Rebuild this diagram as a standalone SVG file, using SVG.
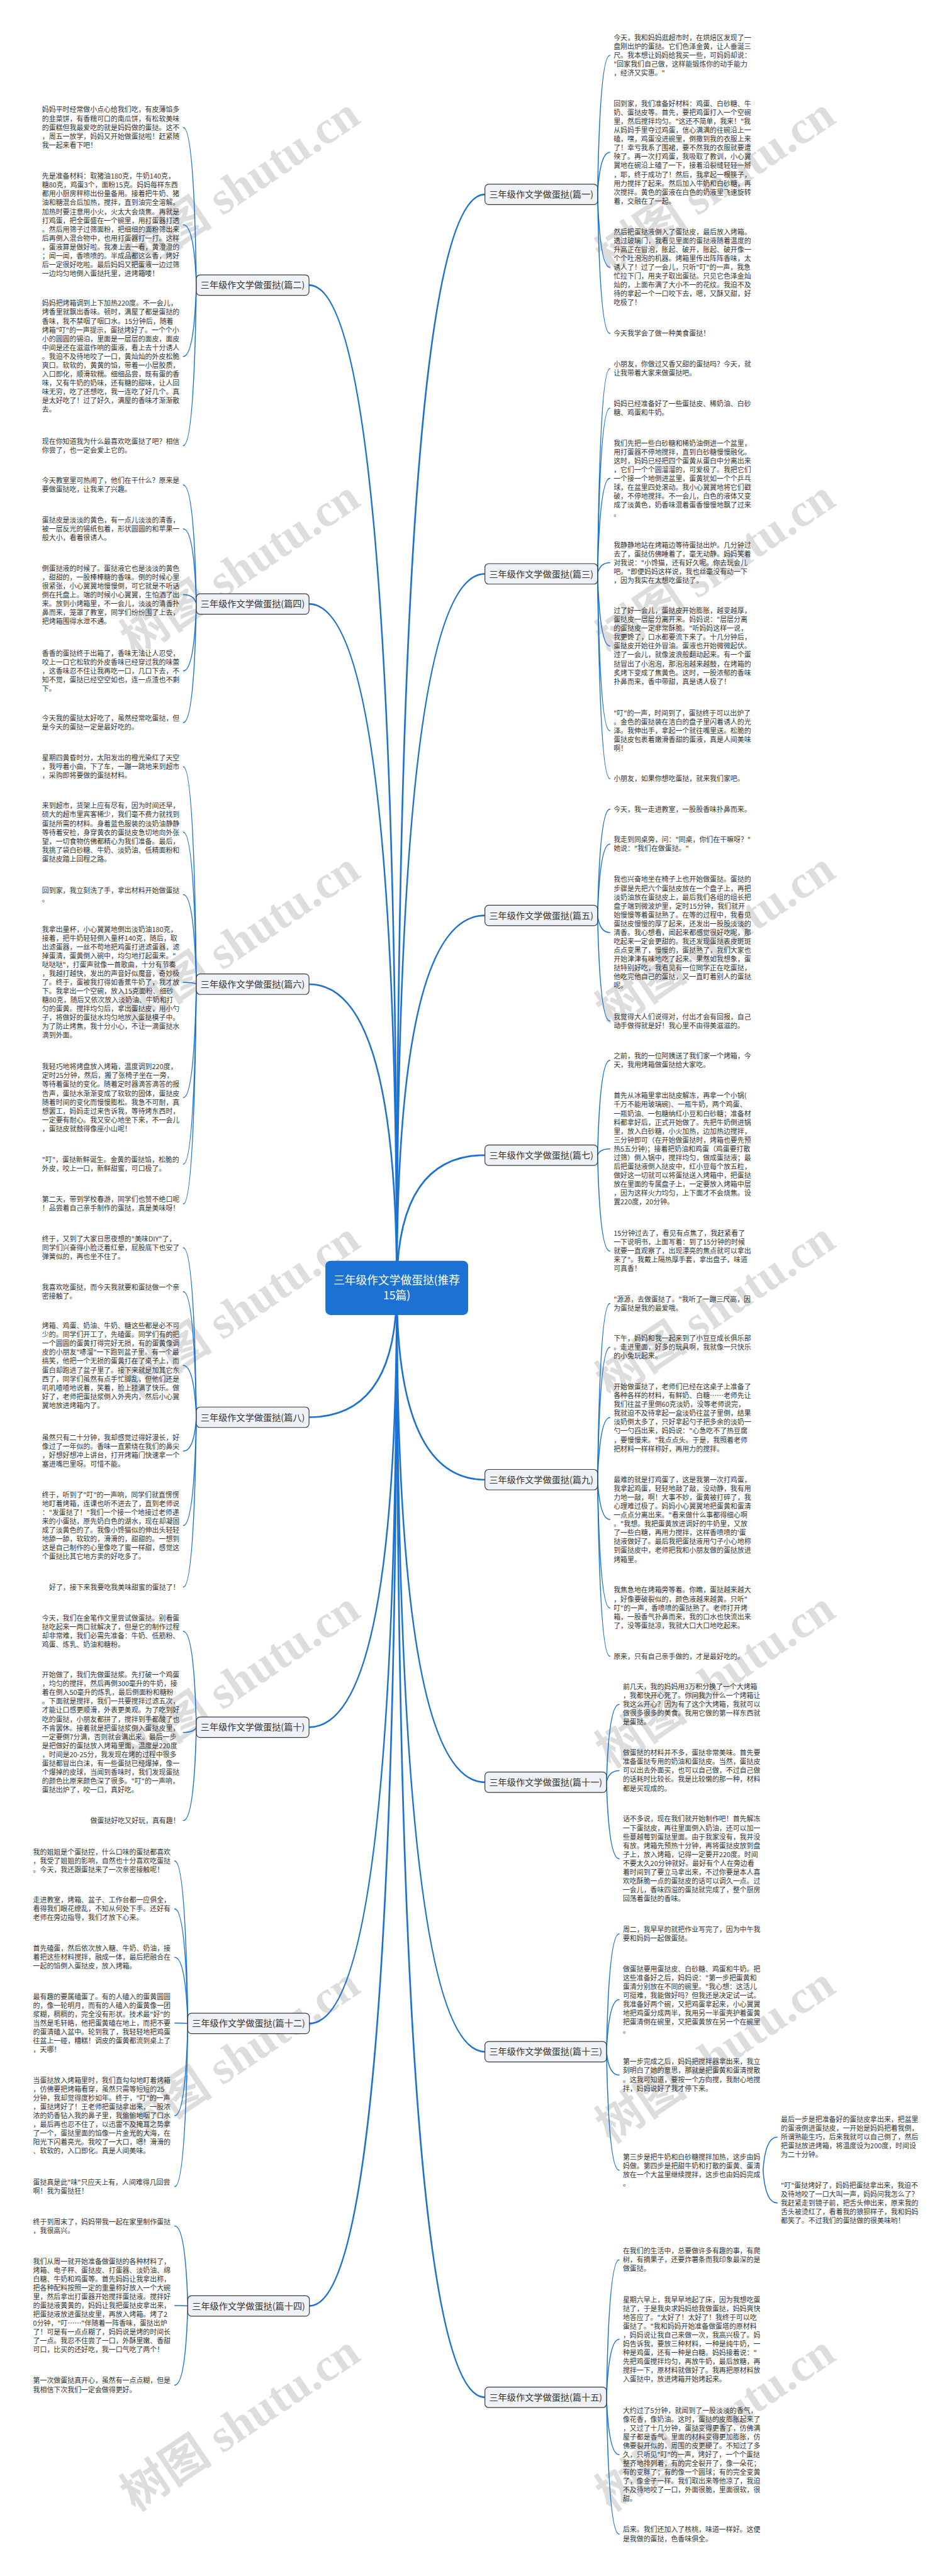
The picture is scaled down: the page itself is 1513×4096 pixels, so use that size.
<svg xmlns="http://www.w3.org/2000/svg" width="1513" height="4096" viewBox="0 0 1513 4096">
<style>
.p{font-family:"Noto Sans CJK SC","Noto Sans",sans-serif;font-size:18.5px;fill:#333}
.nt{font-family:"Noto Sans CJK SC","Noto Sans",sans-serif;font-size:24px;fill:#333;text-anchor:middle}
.ct{font-family:"Noto Sans CJK SC","Noto Sans",sans-serif;font-size:30px;fill:#fff;text-anchor:middle}
.node{fill:#eef1f6;stroke:#3a3a3a;stroke-width:2}
.m{fill:none;stroke:#1b72d2;stroke-width:4.5;stroke-linecap:round}
.s{fill:none;stroke:#1b72d2;stroke-width:2.6;stroke-linecap:round}
.wm{font-family:"Liberation Serif","Noto Sans CJK SC",serif;font-size:125px;font-weight:bold;fill:#000;opacity:0.13;text-anchor:middle}
</style>
<rect width="1513" height="4096" fill="#fff"/>
<g transform="scale(0.591)">
<g id="watermarks">
<text class="wm" x="647" y="540" transform="rotate(-34 647 500)">树图 shutu.cn</text>
<text class="wm" x="1925" y="540" transform="rotate(-34 1925 500)">树图 shutu.cn</text>
<text class="wm" x="647" y="1570" transform="rotate(-34 647 1530)">树图 shutu.cn</text>
<text class="wm" x="1925" y="1570" transform="rotate(-34 1925 1530)">树图 shutu.cn</text>
<text class="wm" x="647" y="2570" transform="rotate(-34 647 2530)">树图 shutu.cn</text>
<text class="wm" x="1925" y="2570" transform="rotate(-34 1925 2530)">树图 shutu.cn</text>
<text class="wm" x="647" y="3565" transform="rotate(-34 647 3525)">树图 shutu.cn</text>
<text class="wm" x="1925" y="3565" transform="rotate(-34 1925 3525)">树图 shutu.cn</text>
<text class="wm" x="647" y="4560" transform="rotate(-34 647 4520)">树图 shutu.cn</text>
<text class="wm" x="1925" y="4560" transform="rotate(-34 1925 4520)">树图 shutu.cn</text>
<text class="wm" x="647" y="5570" transform="rotate(-34 647 5530)">树图 shutu.cn</text>
<text class="wm" x="1925" y="5570" transform="rotate(-34 1925 5530)">树图 shutu.cn</text>
<text class="wm" x="647" y="6560" transform="rotate(-34 647 6520)">树图 shutu.cn</text>
<text class="wm" x="1925" y="6560" transform="rotate(-34 1925 6520)">树图 shutu.cn</text>
</g>
<g id="connectors">
<path class="m" d="M1067 3465 Q1067 523 1304 523"/>
<path class="m" d="M1067 3465 Q1067 1544 1304 1544"/>
<path class="m" d="M1067 3465 Q1067 2463 1304 2463"/>
<path class="m" d="M1067 3465 Q1067 3108 1304 3108"/>
<path class="m" d="M1067 3465 Q1067 3981 1304 3981"/>
<path class="m" d="M1067 3465 Q1067 4795 1304 4795"/>
<path class="m" d="M1067 3465 Q1067 5520 1304 5520"/>
<path class="m" d="M1067 3465 Q1067 6450 1304 6450"/>
<path class="m" d="M1067 3465 Q1067 767 831 767"/>
<path class="m" d="M1067 3465 Q1067 1625 831 1625"/>
<path class="m" d="M1067 3465 Q1067 2648 831 2648"/>
<path class="m" d="M1067 3465 Q1067 3813 831 3813"/>
<path class="m" d="M1067 3465 Q1067 4647 831 4647"/>
<path class="m" d="M1067 3465 Q1067 5444 832 5444"/>
<path class="m" d="M1067 3465 Q1067 6204 832 6204"/>
<path class="s" d="M1607 523 Q1613 149 1640 149"/>
<path class="s" d="M1607 523 Q1613 410 1640 410"/>
<path class="s" d="M1607 523 Q1613 719 1640 719"/>
<path class="s" d="M1607 523 Q1613 897 1640 897"/>
<path class="s" d="M1607 1544 Q1613 992 1640 992"/>
<path class="s" d="M1607 1544 Q1613 1098 1640 1098"/>
<path class="s" d="M1607 1544 Q1613 1287 1640 1287"/>
<path class="s" d="M1607 1544 Q1613 1514 1640 1514"/>
<path class="s" d="M1607 1544 Q1613 1738 1640 1738"/>
<path class="s" d="M1607 1544 Q1613 1966 1640 1966"/>
<path class="s" d="M1607 1544 Q1613 2095 1640 2095"/>
<path class="s" d="M1607 2463 Q1613 2177 1640 2177"/>
<path class="s" d="M1607 2463 Q1613 2271 1640 2271"/>
<path class="s" d="M1607 2463 Q1613 2509 1640 2509"/>
<path class="s" d="M1607 2463 Q1613 2747 1640 2747"/>
<path class="s" d="M1607 3108 Q1613 2853 1640 2853"/>
<path class="s" d="M1607 3108 Q1613 3091 1640 3091"/>
<path class="s" d="M1607 3108 Q1613 3366 1640 3366"/>
<path class="s" d="M1607 3981 Q1613 3507 1640 3507"/>
<path class="s" d="M1607 3981 Q1613 3625 1640 3625"/>
<path class="s" d="M1607 3981 Q1613 3814 1640 3814"/>
<path class="s" d="M1607 3981 Q1613 4088 1640 4088"/>
<path class="s" d="M1607 3981 Q1613 4326 1640 4326"/>
<path class="s" d="M1607 3981 Q1613 4456 1640 4456"/>
<path class="s" d="M1631 4795 Q1637 4586 1665 4586"/>
<path class="s" d="M1631 4795 Q1637 4764 1665 4764"/>
<path class="s" d="M1631 4795 Q1637 5001 1665 5001"/>
<path class="s" d="M1631 5520 Q1637 5203 1665 5203"/>
<path class="s" d="M1631 5520 Q1637 5380 1665 5380"/>
<path class="s" d="M1631 5520 Q1637 5583 1665 5583"/>
<path class="s" d="M1631 5520 Q1637 5839 1665 5839"/>
<path class="s" d="M2052 5839 Q2058 5750 2090 5750"/>
<path class="s" d="M2052 5839 Q2058 5927 2090 5927"/>
<path class="s" d="M1631 6450 Q1637 6080 1665 6080"/>
<path class="s" d="M1631 6450 Q1637 6294 1665 6294"/>
<path class="s" d="M1631 6450 Q1637 6604 1665 6604"/>
<path class="s" d="M1631 6450 Q1637 6818 1665 6818"/>
<path class="s" d="M528 767 Q522 343 493 343"/>
<path class="s" d="M528 767 Q522 605 493 605"/>
<path class="s" d="M528 767 Q522 959 493 959"/>
<path class="s" d="M528 767 Q522 1199 493 1199"/>
<path class="s" d="M528 1625 Q522 1305 493 1305"/>
<path class="s" d="M528 1625 Q522 1423 493 1423"/>
<path class="s" d="M528 1625 Q522 1600 493 1600"/>
<path class="s" d="M528 1625 Q522 1805 493 1805"/>
<path class="s" d="M528 1625 Q522 1944 493 1944"/>
<path class="s" d="M528 2648 Q522 2063 493 2063"/>
<path class="s" d="M528 2648 Q522 2239 493 2239"/>
<path class="s" d="M528 2648 Q522 2407 493 2407"/>
<path class="s" d="M528 2648 Q522 2643 493 2643"/>
<path class="s" d="M528 2648 Q522 2953 493 2953"/>
<path class="s" d="M528 2648 Q522 3132 493 3132"/>
<path class="s" d="M528 2648 Q522 3239 493 3239"/>
<path class="s" d="M528 3813 Q522 3357 493 3357"/>
<path class="s" d="M528 3813 Q522 3475 493 3475"/>
<path class="s" d="M528 3813 Q522 3674 493 3674"/>
<path class="s" d="M528 3813 Q522 3904 493 3904"/>
<path class="s" d="M528 3813 Q522 4104 493 4104"/>
<path class="s" d="M528 3813 Q522 4270 493 4270"/>
<path class="s" d="M528 4647 Q522 4389 493 4389"/>
<path class="s" d="M528 4647 Q522 4661 493 4661"/>
<path class="s" d="M528 4647 Q522 4898 493 4898"/>
<path class="s" d="M505 5444 Q499 5007 470 5007"/>
<path class="s" d="M505 5444 Q499 5136 470 5136"/>
<path class="s" d="M505 5444 Q499 5266 470 5266"/>
<path class="s" d="M505 5444 Q499 5443 470 5443"/>
<path class="s" d="M505 5444 Q499 5692 470 5692"/>
<path class="s" d="M505 5444 Q499 5883 470 5883"/>
<path class="s" d="M505 6204 Q499 5989 470 5989"/>
<path class="s" d="M505 6204 Q499 6203 470 6203"/>
<path class="s" d="M505 6204 Q499 6417 470 6417"/>
</g>
<g id="center">
<rect x="875" y="3392" width="384" height="146" rx="14" fill="#1b72d2"/>
<text class="ct" x="1067" y="3456">三年级作文学做蛋挞(推荐</text>
<text class="ct" x="1067" y="3496">15篇)</text>
</g>
<g id="n1"><rect class="node" x="1304" y="495.5" width="303" height="55" rx="10"/><text class="nt" x="1455.5" y="531.5">三年级作文学做蛋挞(篇一)</text></g>
<g id="n3"><rect class="node" x="1304" y="1516.5" width="303" height="55" rx="10"/><text class="nt" x="1455.5" y="1552.5">三年级作文学做蛋挞(篇三)</text></g>
<g id="n5"><rect class="node" x="1304" y="2435.5" width="303" height="55" rx="10"/><text class="nt" x="1455.5" y="2471.5">三年级作文学做蛋挞(篇五)</text></g>
<g id="n7"><rect class="node" x="1304" y="3080.5" width="303" height="55" rx="10"/><text class="nt" x="1455.5" y="3116.5">三年级作文学做蛋挞(篇七)</text></g>
<g id="n9"><rect class="node" x="1304" y="3953.5" width="303" height="55" rx="10"/><text class="nt" x="1455.5" y="3989.5">三年级作文学做蛋挞(篇九)</text></g>
<g id="n11"><rect class="node" x="1304" y="4767.5" width="327" height="55" rx="10"/><text class="nt" x="1467.5" y="4803.5">三年级作文学做蛋挞(篇十一)</text></g>
<g id="n13"><rect class="node" x="1304" y="5492.5" width="327" height="55" rx="10"/><text class="nt" x="1467.5" y="5528.5">三年级作文学做蛋挞(篇十三)</text></g>
<g id="n15"><rect class="node" x="1304" y="6422.5" width="327" height="55" rx="10"/><text class="nt" x="1467.5" y="6458.5">三年级作文学做蛋挞(篇十五)</text></g>
<g id="n2"><rect class="node" x="528" y="739.5" width="303" height="55" rx="10"/><text class="nt" x="679.5" y="775.5">三年级作文学做蛋挞(篇二)</text></g>
<g id="n4"><rect class="node" x="528" y="1597.5" width="303" height="55" rx="10"/><text class="nt" x="679.5" y="1633.5">三年级作文学做蛋挞(篇四)</text></g>
<g id="n6"><rect class="node" x="528" y="2620.5" width="303" height="55" rx="10"/><text class="nt" x="679.5" y="2656.5">三年级作文学做蛋挞(篇六)</text></g>
<g id="n8"><rect class="node" x="528" y="3785.5" width="303" height="55" rx="10"/><text class="nt" x="679.5" y="3821.5">三年级作文学做蛋挞(篇八)</text></g>
<g id="n10"><rect class="node" x="528" y="4619.5" width="303" height="55" rx="10"/><text class="nt" x="679.5" y="4655.5">三年级作文学做蛋挞(篇十)</text></g>
<g id="n12"><rect class="node" x="505" y="5416.5" width="327" height="55" rx="10"/><text class="nt" x="668.5" y="5452.5">三年级作文学做蛋挞(篇十二)</text></g>
<g id="n14"><rect class="node" x="505" y="6176.5" width="327" height="55" rx="10"/><text class="nt" x="668.5" y="6212.5">三年级作文学做蛋挞(篇十四)</text></g>
<g id="right-texts">
<text class="p" y="108"><tspan x="1650">今天，我和妈妈逛超市时，在烘焙区发现了一</tspan><tspan x="1650" dy="23.8">盘刚出炉的蛋挞。它们色泽金黄，让人垂涎三</tspan><tspan x="1650" dy="23.8">尺。我本想让妈妈给我买一些，可妈妈却说：</tspan><tspan x="1650" dy="23.8">"回家我们自己做，这样能锻炼你的动手能力</tspan><tspan x="1650" dy="23.8">，经济又实惠。"</tspan></text>
<text class="p" y="286"><tspan x="1650">回到家，我们准备好材料：鸡蛋、白砂糖、牛</tspan><tspan x="1650" dy="23.8">奶、蛋挞皮等。首先，要把鸡蛋打入一个空碗</tspan><tspan x="1650" dy="23.8">里，然后搅拌均匀。"这还不简单，我来！"我</tspan><tspan x="1650" dy="23.8">从妈妈手里夺过鸡蛋，信心满满的往碗沿上一</tspan><tspan x="1650" dy="23.8">磕，嘿，鸡蛋没进碗里，倒撒到我的衣服上来</tspan><tspan x="1650" dy="23.8">了！幸亏我系了围裙，要不然我的衣服就要遭</tspan><tspan x="1650" dy="23.8">殃了。再一次打鸡蛋，我吸取了教训，小心翼</tspan><tspan x="1650" dy="23.8">翼地在碗沿上磕了一下，接着沿裂缝轻轻一掰</tspan><tspan x="1650" dy="23.8">，耶，终于成功了！然后，我拿起一根筷子，</tspan><tspan x="1650" dy="23.8">用力搅拌了起来。然后加入牛奶和白砂糖，再</tspan><tspan x="1650" dy="23.8">次搅拌。黄色的蛋液在白色的奶液里飞速旋转</tspan><tspan x="1650" dy="23.8">着，交融在了一起。</tspan></text>
<text class="p" y="631"><tspan x="1650">然后把蛋挞液倒入了蛋挞皮，最后放入烤箱。</tspan><tspan x="1650" dy="23.8">透过玻璃门，我看见里面的蛋挞液随着温度的</tspan><tspan x="1650" dy="23.8">升高正在冒泡，胀起、破开，胀起、破开像一</tspan><tspan x="1650" dy="23.8">个个吐泡泡的机器。烤箱里传出阵阵香味，太</tspan><tspan x="1650" dy="23.8">诱人了！过了一会儿，只听"叮"的一声，我急</tspan><tspan x="1650" dy="23.8">忙拉下门，用夹子取出蛋挞。只见它色泽金灿</tspan><tspan x="1650" dy="23.8">灿的，上面布满了大小不一的花纹。我迫不及</tspan><tspan x="1650" dy="23.8">待的拿起一个一口咬下去，嗯，又酥又甜，好</tspan><tspan x="1650" dy="23.8">吃极了！</tspan></text>
<text class="p" x="1650" y="904">今天我学会了做一种美食蛋挞！</text>
<text class="p" y="987"><tspan x="1650">小朋友，你做过又香又甜的蛋挞吗？今天，就</tspan><tspan x="1650" dy="23.8">让我带着大家来做蛋挞吧。</tspan></text>
<text class="p" y="1093"><tspan x="1650">妈妈已经准备好了一些蛋挞皮、稀奶油、白砂</tspan><tspan x="1650" dy="23.8">糖、鸡蛋和牛奶。</tspan></text>
<text class="p" y="1199"><tspan x="1650">我们先把一些白砂糖和稀奶油倒进一个盆里，</tspan><tspan x="1650" dy="23.8">用打蛋器不停地搅拌，直到白砂糖慢慢融化。</tspan><tspan x="1650" dy="23.8">这时，妈妈已经把四个蛋黄从蛋白中分离出来</tspan><tspan x="1650" dy="23.8">，它们一个个圆溜溜的，可爱极了。我把它们</tspan><tspan x="1650" dy="23.8">一个接一个地倒进盆里，蛋黄犹如一个个乒乓</tspan><tspan x="1650" dy="23.8">球，在盆里四处滚动。我小心翼翼地将它们戳</tspan><tspan x="1650" dy="23.8">破，不停地搅拌。不一会儿，白色的液体又变</tspan><tspan x="1650" dy="23.8">成了淡黄色，奶香味混着蛋香慢慢地飘了过来</tspan><tspan x="1650" dy="23.8">。</tspan></text>
<text class="p" y="1473"><tspan x="1650">我静静地站在烤箱边等待蛋挞出炉。几分钟过</tspan><tspan x="1650" dy="23.8">去了，蛋挞仿佛睡着了，毫无动静。妈妈笑着</tspan><tspan x="1650" dy="23.8">对我说："小馋猫，还有好久呢。你去玩会儿</tspan><tspan x="1650" dy="23.8">吧。"即便妈妈这样说，我也丝毫没有动一下</tspan><tspan x="1650" dy="23.8">，因为我实在太想吃蛋挞了。</tspan></text>
<text class="p" y="1650"><tspan x="1650">过了好一会儿，蛋挞皮开始膨胀，越变越厚，</tspan><tspan x="1650" dy="23.8">蛋挞皮一层层分离开来。妈妈说："层层分离</tspan><tspan x="1650" dy="23.8">的蛋挞皮一定非常酥脆。"听妈妈这样一说，</tspan><tspan x="1650" dy="23.8">我更馋了，口水都要流下来了。十几分钟后，</tspan><tspan x="1650" dy="23.8">蛋挞皮开始往外冒油。蛋液也开始微微起伏。</tspan><tspan x="1650" dy="23.8">过了一会儿，就像波浪般翻动起来。有一个蛋</tspan><tspan x="1650" dy="23.8">挞冒出了小泡泡，那泡泡越来越鼓，在烤箱的</tspan><tspan x="1650" dy="23.8">炙烤下变成了焦黄色。这时，一股浓郁的香味</tspan><tspan x="1650" dy="23.8">扑鼻而来，香中带甜，真是诱人极了！</tspan></text>
<text class="p" y="1925"><tspan x="1650">"叮"的一声，时间到了，蛋挞终于可以出炉了</tspan><tspan x="1650" dy="23.8">。金色的蛋挞装在洁白的盘子里闪着诱人的光</tspan><tspan x="1650" dy="23.8">泽。我伸出手，拿起一个就往嘴里送。松脆的</tspan><tspan x="1650" dy="23.8">蛋挞皮包裹着嫩滑香甜的蛋液，真是人间美味</tspan><tspan x="1650" dy="23.8">啊！</tspan></text>
<text class="p" x="1650" y="2102">小朋友，如果你想吃蛋挞，就来我们家吧。</text>
<text class="p" x="1650" y="2184">今天，我一走进教室，一股股香味扑鼻而来。</text>
<text class="p" y="2266"><tspan x="1650">我走到同桌旁，问："同桌，你们在干嘛呀？"</tspan><tspan x="1650" dy="23.8">她说："我们在做蛋挞。"</tspan></text>
<text class="p" y="2373"><tspan x="1650">我也兴奋地坐在椅子上也开始做蛋挞。蛋挞的</tspan><tspan x="1650" dy="23.8">步骤是先把六个蛋挞皮放在一个盘子上，再把</tspan><tspan x="1650" dy="23.8">淡奶油放在蛋挞皮上，最后我们各组的组长把</tspan><tspan x="1650" dy="23.8">盘子端到微波炉里，定时15分钟，我们就开</tspan><tspan x="1650" dy="23.8">始慢慢等着蛋挞熟了。在等的过程中，我看见</tspan><tspan x="1650" dy="23.8">蛋挞皮慢慢的厚了起来，还发出一股股淡淡的</tspan><tspan x="1650" dy="23.8">清香。我心想看，闻起来都感觉很好吃呢，那</tspan><tspan x="1650" dy="23.8">吃起来一定会更甜的。我还发现蛋挞表皮斑斑</tspan><tspan x="1650" dy="23.8">点点变黑了，慢慢的，蛋挞熟了，我们大家也</tspan><tspan x="1650" dy="23.8">开始津津有味地吃了起来。果然如我想象，蛋</tspan><tspan x="1650" dy="23.8">挞特别好吃，我看见有一位同学正在吃蛋挞，</tspan><tspan x="1650" dy="23.8">他吃完他自己的蛋挞，又一直盯着别人的蛋挞</tspan><tspan x="1650" dy="23.8">呢。</tspan></text>
<text class="p" y="2742"><tspan x="1650">我觉得大人们说得对，付出才会有回报，自己</tspan><tspan x="1650" dy="23.8">动手做得就是好！我心里不由得美滋滋的。</tspan></text>
<text class="p" y="2848"><tspan x="1650">之前，我的一位阿姨送了我们家一个烤箱，今</tspan><tspan x="1650" dy="23.8">天，我用烤箱做蛋挞给大家吃。</tspan></text>
<text class="p" y="2955"><tspan x="1650">首先从冰箱里拿出挞皮解冻，再拿一个小锅(</tspan><tspan x="1650" dy="23.8">千万不能用玻璃碗)、一瓶牛奶，两个鸡蛋、</tspan><tspan x="1650" dy="23.8">一瓶奶油、一包糖纳红小豆和白砂糖；准备材</tspan><tspan x="1650" dy="23.8">料都拿好后，正式开始做了。先把牛奶倒进锅</tspan><tspan x="1650" dy="23.8">里，放入白砂糖，小火加热，边加热边搅拌，</tspan><tspan x="1650" dy="23.8">三分钟即可（在开始做蛋挞时，烤箱也要先预</tspan><tspan x="1650" dy="23.8">热5五分钟)；接着把奶油和鸡蛋（鸡蛋要打散</tspan><tspan x="1650" dy="23.8">过筛）倒入锅中，搅拌均匀，做成蛋挞液；最</tspan><tspan x="1650" dy="23.8">后把蛋挞液倒入挞皮中，红小豆每个放五粒，</tspan><tspan x="1650" dy="23.8">做好这一切就可以将蛋挞送入烤箱中，把蛋挞</tspan><tspan x="1650" dy="23.8">放在里面的专属盘子上，一定要放入烤箱中层</tspan><tspan x="1650" dy="23.8">，因为这样火力均匀，上下面才不会烧焦。设</tspan><tspan x="1650" dy="23.8">置220度，20分钟。</tspan></text>
<text class="p" y="3325"><tspan x="1650">15分钟过去了，看见有点焦了，我赶紧看了</tspan><tspan x="1650" dy="23.8">一下说明书，上面写着：到了15分钟的时候</tspan><tspan x="1650" dy="23.8">就要一直观察了，出现漂亮的焦点就可以拿出</tspan><tspan x="1650" dy="23.8">来了"。我戴上隔热厚手套，拿出盘子，味道</tspan><tspan x="1650" dy="23.8">可真香！</tspan></text>
<text class="p" y="3502"><tspan x="1650">"源源，去做蛋挞了。"我听了一蹦三尺高，因</tspan><tspan x="1650" dy="23.8">为蛋挞是我的最爱哦。</tspan></text>
<text class="p" y="3608"><tspan x="1650">下午，妈妈和我一起来到了小豆豆成长俱乐部</tspan><tspan x="1650" dy="23.8">。走进里面，好多的玩具啊，我就像一只快乐</tspan><tspan x="1650" dy="23.8">的小兔玩起来。</tspan></text>
<text class="p" y="3738"><tspan x="1650">开始做蛋挞了，老师们已经在这桌子上准备了</tspan><tspan x="1650" dy="23.8">各种各样的材料，有鲜奶、白糖……老师先让</tspan><tspan x="1650" dy="23.8">我们往盆子里倒60克淡奶，没等老师说完，</tspan><tspan x="1650" dy="23.8">我就迫不及待拿起一盒淡奶往盆子里倒，结果</tspan><tspan x="1650" dy="23.8">淡奶倒太多了，只好拿起勺子把多余的淡奶一</tspan><tspan x="1650" dy="23.8">勺一勺舀出来，妈妈说："心急吃不了热豆腐</tspan><tspan x="1650" dy="23.8">，要慢慢来。"我点点头。于是，我照着老师</tspan><tspan x="1650" dy="23.8">把材料一样样称好，再用力的搅拌。</tspan></text>
<text class="p" y="3988"><tspan x="1650">最难的就是打鸡蛋了，这是我第一次打鸡蛋，</tspan><tspan x="1650" dy="23.8">我拿起鸡蛋，轻轻地敲了敲，没动静，我有用</tspan><tspan x="1650" dy="23.8">力地一敲，啊！大事不妙，蛋黄被打碎了，我</tspan><tspan x="1650" dy="23.8">心理难过极了。妈妈小心翼翼地把蛋黄和蛋清</tspan><tspan x="1650" dy="23.8">一点点分离出来。"看来做什么事都得细心啊</tspan><tspan x="1650" dy="23.8">。"我想。我把蛋黄放进调好的牛奶里，又放</tspan><tspan x="1650" dy="23.8">了一些白糖，再用力搅拌，这样香喷喷的'蛋</tspan><tspan x="1650" dy="23.8">挞液做好了。最后我把蛋挞液用勺子小心地称</tspan><tspan x="1650" dy="23.8">到蛋挞皮中，老师把我和小朋友做的蛋挞放进</tspan><tspan x="1650" dy="23.8">烤箱里。</tspan></text>
<text class="p" y="4285"><tspan x="1650">我焦急地在烤箱旁等着。你瞧，蛋挞越来越大</tspan><tspan x="1650" dy="23.8">，好像要破裂似的，颜色液越来越黄。只听"</tspan><tspan x="1650" dy="23.8">叮"的一声，香喷喷的蛋挞熟了。老师打开烤</tspan><tspan x="1650" dy="23.8">箱，一股香气扑鼻而来，我的口水也快流出来</tspan><tspan x="1650" dy="23.8">了，没等蛋挞凉，我就大口大口地吃起来。</tspan></text>
<text class="p" x="1650" y="4463">原来，只有自己亲手做的，才是最好吃的。</text>
<text class="p" y="4545"><tspan x="1675">前几天，我的妈妈用3万积分换了一个大烤箱</tspan><tspan x="1675" dy="23.8">，我都快开心死了。你问我为什么一个烤箱让</tspan><tspan x="1675" dy="23.8">我这么开心？因为有了这个大烤箱，我就可以</tspan><tspan x="1675" dy="23.8">做很多很多的美食。我用它做的第一样东西就</tspan><tspan x="1675" dy="23.8">是蛋挞。</tspan></text>
<text class="p" y="4723"><tspan x="1675">做蛋挞的材料并不多，蛋挞非常美味。首先要</tspan><tspan x="1675" dy="23.8">准备蛋挞专用的奶油和蛋挞皮。当然，蛋挞皮</tspan><tspan x="1675" dy="23.8">可以出去外面买，也可以自己做，不过自己做</tspan><tspan x="1675" dy="23.8">的话耗时比较长。我是比较懒的那一种，材料</tspan><tspan x="1675" dy="23.8">都是买现成的。</tspan></text>
<text class="p" y="4901"><tspan x="1675">话不多说，现在我们就开始制作吧！首先解冻</tspan><tspan x="1675" dy="23.8">一下蛋挞皮，再往里面倒入奶油，还可以加一</tspan><tspan x="1675" dy="23.8">些蔓越莓到蛋挞里面。由于我家没有，我并没</tspan><tspan x="1675" dy="23.8">有放。烤箱先预热十分钟，再将蛋挞皮放到盘</tspan><tspan x="1675" dy="23.8">子上，放入烤箱，记得一定要开220度。时间</tspan><tspan x="1675" dy="23.8">不要太久20分钟就好。最好有个人在旁边看</tspan><tspan x="1675" dy="23.8">着时间到了要立马拿出来，不过你要是本人喜</tspan><tspan x="1675" dy="23.8">欢吃酥脆一点的蛋挞皮的话可以调久一点。过</tspan><tspan x="1675" dy="23.8">一会儿，香味四溢的蛋挞就完成了，整个厨房</tspan><tspan x="1675" dy="23.8">回荡着蛋挞的香味。</tspan></text>
<text class="p" y="5198"><tspan x="1675">周二，我早早的就把作业写完了，因为中午我</tspan><tspan x="1675" dy="23.8">要和妈妈一起做蛋挞。</tspan></text>
<text class="p" y="5304"><tspan x="1675">做蛋挞要用蛋挞皮、白砂糖、鸡蛋和牛奶。把</tspan><tspan x="1675" dy="23.8">这些准备好之后，妈妈说："第一步把蛋黄和</tspan><tspan x="1675" dy="23.8">蛋清分别放在不同的碗里。"我心想：这活儿</tspan><tspan x="1675" dy="23.8">可挺难，我能做好吗？但我还是决定试一试。</tspan><tspan x="1675" dy="23.8">我准备好两个碗，又把鸡蛋拿起来，小心翼翼</tspan><tspan x="1675" dy="23.8">地把鸡蛋分成两半，我用另一半蛋壳护着蛋黄</tspan><tspan x="1675" dy="23.8">把蛋清倒在碗里，又把蛋黄放在另一个在碗里</tspan><tspan x="1675" dy="23.8">。</tspan></text>
<text class="p" y="5554"><tspan x="1675">第一步完成之后，妈妈把搅拌器拿出来，我立</tspan><tspan x="1675" dy="23.8">刻明白了她的意思，那就是把蛋黄和蛋清搅散</tspan><tspan x="1675" dy="23.8">。这我可知道，要按一个方向搅，我耐心地搅</tspan><tspan x="1675" dy="23.8">拌，妈妈说好了我才停下来。</tspan></text>
<text class="p" y="5810"><tspan x="1675">第三步是把牛奶和白砂糖搅拌加热，这步由妈</tspan><tspan x="1675" dy="23.8">妈做。第四步是把甜牛奶和打散的蛋黄、蛋清</tspan><tspan x="1675" dy="23.8">放在一个大盆里继续搅拌，这步也由妈妈完成</tspan><tspan x="1675" dy="23.8">。</tspan></text>
<text class="p" y="5709"><tspan x="2100">最后一步是把准备好的蛋挞皮拿出来，把盆里</tspan><tspan x="2100" dy="23.8">的蛋液倒进蛋挞皮，一开始是妈妈把着我倒，</tspan><tspan x="2100" dy="23.8">所谓熟能生巧，后来我就可以自己倒了，然后</tspan><tspan x="2100" dy="23.8">把蛋挞放进烤箱，将温度设为200度，时间设</tspan><tspan x="2100" dy="23.8">为二十分钟。</tspan></text>
<text class="p" y="5886"><tspan x="2100">"叮"蛋挞烤好了，妈妈把蛋挞拿出来，我迫不</tspan><tspan x="2100" dy="23.8">及待地咬了一口大叫一声，妈妈问我怎么了？</tspan><tspan x="2100" dy="23.8">我赶紧走到镜子前，把舌头伸出来，原来我的</tspan><tspan x="2100" dy="23.8">舌头被烫红了，看着我的狼狈样子，我和妈妈</tspan><tspan x="2100" dy="23.8">都笑了。不过我们的蛋挞做的很美味哟！</tspan></text>
<text class="p" y="6063"><tspan x="1675">在我们的生活中，总要做许多有趣的事，有爬</tspan><tspan x="1675" dy="23.8">树，有摘果子，还要炸薯条而我印象最深的是</tspan><tspan x="1675" dy="23.8">做蛋挞。</tspan></text>
<text class="p" y="6194"><tspan x="1675">星期六早上，我早早地起了床，因为我想吃蛋</tspan><tspan x="1675" dy="23.8">挞了，于是我央求妈妈给我做蛋挞，妈妈爽快</tspan><tspan x="1675" dy="23.8">地答应了。"太好了！太好了！我终于可以吃</tspan><tspan x="1675" dy="23.8">蛋挞了。"我和妈妈开始准备做蛋塔的原材料</tspan><tspan x="1675" dy="23.8">，妈妈说让我自己来做一次，我高兴极了。妈</tspan><tspan x="1675" dy="23.8">妈告诉我，要放三种材料，一种是纯牛奶，一</tspan><tspan x="1675" dy="23.8">种是鸡蛋，还有一种是白糖。妈妈接着说："</tspan><tspan x="1675" dy="23.8">先把鸡蛋搅拌均匀，再放牛奶，最后放糖，再</tspan><tspan x="1675" dy="23.8">搅拌一下，原材料就做好了。我再把原材料放</tspan><tspan x="1675" dy="23.8">入蛋挞中，放进烤箱开始烤起来。</tspan></text>
<text class="p" y="6492"><tspan x="1675">大约过了5分钟，就闻到了一股淡淡的香气，</tspan><tspan x="1675" dy="23.8">像花香，像奶油。这时，蛋挞的皮膨胀起来了</tspan><tspan x="1675" dy="23.8">，又过了十几分钟，蛋挞变得更香了，仿佛满</tspan><tspan x="1675" dy="23.8">屋子都是香气。里面的材料变得更加膨胀，仿</tspan><tspan x="1675" dy="23.8">佛要裂开似的，周围的皮更硬了。不知过了多</tspan><tspan x="1675" dy="23.8">久，只听见"叮"的一声，烤好了，一个个蛋挞</tspan><tspan x="1675" dy="23.8">整齐地排列着，有的完全裂开了，像一朵花；</tspan><tspan x="1675" dy="23.8">有的变胖了；有的像一个圆球；有的完全变黄</tspan><tspan x="1675" dy="23.8">了，像金子一样。我们取出来等他凉了，我迫</tspan><tspan x="1675" dy="23.8">不及待地咬了一口，外面很脆，里面很软，很</tspan><tspan x="1675" dy="23.8">甜。</tspan></text>
<text class="p" y="6813"><tspan x="1675">后来。我们还加入了核桃，味道一样好。这便</tspan><tspan x="1675" dy="23.8">是我做的蛋挞，色香味俱全。</tspan></text>
</g>
<g id="left-texts">
<text class="p" y="302"><tspan x="113">妈妈平时经常做小点心给我们吃，有皮薄馅多</tspan><tspan x="113" dy="23.8">的韭菜饼，有香糯可口的南瓜饼，有松软美味</tspan><tspan x="113" dy="23.8">的蛋糕但我最爱吃的就是妈妈做的蛋挞。这不</tspan><tspan x="113" dy="23.8">，周五一放学，妈妈又开始做蛋挞啦！赶紧随</tspan><tspan x="113" dy="23.8">我一起来看下吧！</tspan></text>
<text class="p" y="481"><tspan x="113">先是准备材料：取猪油180克，牛奶140克，</tspan><tspan x="113" dy="23.8">糖80克，鸡蛋3个，面粉15克。妈妈每样东西</tspan><tspan x="113" dy="23.8">都用小厨房秤称出份量备用。接着把牛奶、猪</tspan><tspan x="113" dy="23.8">油和糖混合后加热，搅拌，直到油完全溶解。</tspan><tspan x="113" dy="23.8">加热时要注意用小火，火太大会烧焦。再就是</tspan><tspan x="113" dy="23.8">打鸡蛋，把全蛋盛在一个碗里，用打蛋器打透</tspan><tspan x="113" dy="23.8">。然后用筛子过筛面粉，把细细的面粉筛出来</tspan><tspan x="113" dy="23.8">后再倒入混合物中，也用打蛋器打一打。这样</tspan><tspan x="113" dy="23.8">，蛋液算是做好啦。我凑上去一看，黄澄澄的</tspan><tspan x="113" dy="23.8">；闻一闻，香喷喷的。半成品都这么香，烤好</tspan><tspan x="113" dy="23.8">后一定很好吃啦。最后妈妈又把蛋液一边过筛</tspan><tspan x="113" dy="23.8">一边均匀地倒入蛋挞托里，进烤箱喽！</tspan></text>
<text class="p" y="823"><tspan x="113">妈妈把烤箱调到上下加热220度。不一会儿，</tspan><tspan x="113" dy="23.8">烤香里就飘出香味。顿时，满屋了都是蛋挞的</tspan><tspan x="113" dy="23.8">香味，我不禁咽了咽口水。15分钟后，随着</tspan><tspan x="113" dy="23.8">烤箱"叮"的一声提示，蛋挞烤好了。一个个小</tspan><tspan x="113" dy="23.8">小的圆圆的锡泊，里面是一层层的面皮，面皮</tspan><tspan x="113" dy="23.8">中间是还在滋滋作响的蛋液，看上去十分诱人</tspan><tspan x="113" dy="23.8">。我迫不及待地咬了一口，黄灿灿的外皮松脆</tspan><tspan x="113" dy="23.8">爽口。软软的，黄黄的馅，带着一小层胶质，</tspan><tspan x="113" dy="23.8">入口即化，顺滑软糯。细细品尝，既有蛋的香</tspan><tspan x="113" dy="23.8">味，又有牛奶的奶味，还有糖的甜味，让人回</tspan><tspan x="113" dy="23.8">味无穷，吃了还想吃，我一连吃了好几个。真</tspan><tspan x="113" dy="23.8">是太好吃了！过了好久，满屋的香味才渐渐散</tspan><tspan x="113" dy="23.8">去。</tspan></text>
<text class="p" y="1194"><tspan x="113">现在你知道我为什么最喜欢吃蛋挞了吧？相信</tspan><tspan x="113" dy="23.8">你尝了，也一定会爱上它的。</tspan></text>
<text class="p" y="1300"><tspan x="113">今天教室里可热闹了，他们在干什么？原来是</tspan><tspan x="113" dy="23.8">要做蛋挞吃，让我来了兴趣。</tspan></text>
<text class="p" y="1406"><tspan x="113">蛋挞皮是淡淡的黄色，有一点儿淡淡的清香，</tspan><tspan x="113" dy="23.8">被一层反光的锡纸包着，形状圆圆的和苹果一</tspan><tspan x="113" dy="23.8">般大小，看着很诱人。</tspan></text>
<text class="p" y="1536"><tspan x="113">倒蛋挞液的时候了。蛋挞液它也是淡淡的黄色</tspan><tspan x="113" dy="23.8">，甜甜的，一股棒棒糖的香味。倒的时候心里</tspan><tspan x="113" dy="23.8">很紧张，小心翼翼地慢慢倒，可它就是不听话</tspan><tspan x="113" dy="23.8">倒在托盘上。端的时候小心翼翼，生怕洒了出</tspan><tspan x="113" dy="23.8">来。放到小烤箱里，不一会儿，淡淡的清香扑</tspan><tspan x="113" dy="23.8">鼻而来，笼罩了教室，同学们纷纷围了上去，</tspan><tspan x="113" dy="23.8">把烤箱围得水泄不通。</tspan></text>
<text class="p" y="1764"><tspan x="113">香香的蛋挞终于出箱了，香味无法让人忍受，</tspan><tspan x="113" dy="23.8">咬上一口它松软的外皮香味已经穿过我的味蕾</tspan><tspan x="113" dy="23.8">，这香味忍不住让我再吃一口，几口下去，不</tspan><tspan x="113" dy="23.8">知不觉，蛋挞已经空空如也，连一点渣也不剩</tspan><tspan x="113" dy="23.8">下。</tspan></text>
<text class="p" y="1939"><tspan x="113">今天我的蛋挞太好吃了，虽然经常吃蛋挞，但</tspan><tspan x="113" dy="23.8">是今天的蛋挞一定是最好吃的。</tspan></text>
<text class="p" y="2046"><tspan x="113">星期四黄昏时分，太阳发出的橙光染红了天空</tspan><tspan x="113" dy="23.8">，我哼着小曲，下了车，一蹦一跳地来到超市</tspan><tspan x="113" dy="23.8">，采购即将要做的蛋挞材料。</tspan></text>
<text class="p" y="2175"><tspan x="113">来到超市，货架上应有尽有，因为时间还早，</tspan><tspan x="113" dy="23.8">硕大的超市里宾客稀少，我们毫不费力就找到</tspan><tspan x="113" dy="23.8">蛋挞所需的材料。身着蓝色服装的淡奶油静静</tspan><tspan x="113" dy="23.8">等待着安检，身穿黄衣的蛋挞皮急切地向外张</tspan><tspan x="113" dy="23.8">望，一切食物仿佛都精心为我们准备。最后，</tspan><tspan x="113" dy="23.8">我挑了袋白砂糖、牛奶、淡奶油、低精面粉和</tspan><tspan x="113" dy="23.8">蛋挞皮踏上回程之路。</tspan></text>
<text class="p" y="2402"><tspan x="113">回到家，我立刻洗了手，拿出材料开始做蛋挞</tspan><tspan x="113" dy="23.8">。</tspan></text>
<text class="p" y="2507"><tspan x="113">我拿出量杯，小心翼翼地倒出淡奶油180克，</tspan><tspan x="113" dy="23.8">接着，把牛奶轻轻倒入量杯140克，随后，取</tspan><tspan x="113" dy="23.8">出滤蛋器，一丝不苟地把鸡蛋打进滤蛋器，滤</tspan><tspan x="113" dy="23.8">掉蛋清，蛋黄倒入碗中，均匀地打起蛋来。"</tspan><tspan x="113" dy="23.8">哒哒哒"，打蛋声就像一首歌曲，十分有节奏</tspan><tspan x="113" dy="23.8">，我越打越快，发出的声音好似魔音，奇妙极</tspan><tspan x="113" dy="23.8">了。终于，蛋被我打得如香蕉牛奶了，我才放</tspan><tspan x="113" dy="23.8">下。我拿出一个空碗，放入15克面粉、细砂</tspan><tspan x="113" dy="23.8">糖80克，随后又依次放入淡奶油、牛奶和打</tspan><tspan x="113" dy="23.8">匀的蛋黄。搅拌均匀后，拿出蛋挞皮，用小勺</tspan><tspan x="113" dy="23.8">子，将做好的蛋挞水均匀地放入蛋挞模子中。</tspan><tspan x="113" dy="23.8">为了防止烤焦，我十分小心，不让一滴蛋挞水</tspan><tspan x="113" dy="23.8">滴到外面。</tspan></text>
<text class="p" y="2877"><tspan x="113">我轻巧地将烤盘放入烤箱，温度调到220度，</tspan><tspan x="113" dy="23.8">定时25分钟，然后，搬了张椅子坐在一旁，</tspan><tspan x="113" dy="23.8">等待着蛋挞的变化。随着定时器滴答滴答的报</tspan><tspan x="113" dy="23.8">告声，蛋挞水渐渐变成了软软的固体，蛋挞皮</tspan><tspan x="113" dy="23.8">随着时间的变化而慢慢膨松。我急不可耐，真</tspan><tspan x="113" dy="23.8">想罢工，妈妈走过来告诉我，等待烤东西时，</tspan><tspan x="113" dy="23.8">一定要有耐心。我又安心地坐下来，不一会儿</tspan><tspan x="113" dy="23.8">，蛋挞皮就鼓得像座小山呢！</tspan></text>
<text class="p" y="3127"><tspan x="113">"叮"，蛋挞新鲜诞生。金黄的蛋挞馅，松脆的</tspan><tspan x="113" dy="23.8">外皮，咬上一口，新鲜甜蜜，可口极了。</tspan></text>
<text class="p" y="3234"><tspan x="113">第二天，带到学校春游，同学们也赞不绝口呢</tspan><tspan x="113" dy="23.8">！品尝着自己亲手制作的蛋挞，真是美味呀！</tspan></text>
<text class="p" y="3340"><tspan x="113">终于，又到了大家日思夜想的"美味DIY"了，</tspan><tspan x="113" dy="23.8">同学们兴奋得小脸泛着红晕，屁股底下也安了</tspan><tspan x="113" dy="23.8">弹簧似的，再也坐不住了。</tspan></text>
<text class="p" y="3470"><tspan x="113">我喜欢吃蛋挞，而今天我就要和蛋挞做一个亲</tspan><tspan x="113" dy="23.8">密接触了。</tspan></text>
<text class="p" y="3574"><tspan x="113">烤箱、鸡蛋、奶油、牛奶、糖这些都是必不可</tspan><tspan x="113" dy="23.8">少的。同学们开工了，先磕蛋。同学们有的把</tspan><tspan x="113" dy="23.8">一个圆圆的蛋黄打得完好无损，有的蛋黄像调</tspan><tspan x="113" dy="23.8">皮的小朋友"哧溜"一下跑到盆子里。有一个最</tspan><tspan x="113" dy="23.8">搞笑，他把一个无损的蛋黄打在了桌子上，而</tspan><tspan x="113" dy="23.8">蛋白却跑进了盆子里了。接下来就是加其它东</tspan><tspan x="113" dy="23.8">西了，同学们虽然有点手忙脚乱，但他们还是</tspan><tspan x="113" dy="23.8">叽叽喳喳地说着，笑着，脸上挂满了快乐。做</tspan><tspan x="113" dy="23.8">好了，老师把蛋挞浆倒入外壳内，然后小心翼</tspan><tspan x="113" dy="23.8">翼地放进烤箱内了。</tspan></text>
<text class="p" y="3875"><tspan x="113">虽然只有二十分钟，我却感觉过得好漫长，好</tspan><tspan x="113" dy="23.8">像过了一年似的。香味一直萦绕在我们的鼻尖</tspan><tspan x="113" dy="23.8">，好想好想冲上讲台，打开烤箱门快速拿一个</tspan><tspan x="113" dy="23.8">塞进嘴巴里呀。可惜不能。</tspan></text>
<text class="p" y="4028"><tspan x="113">终于，听到了"叮"的一声响，同学们就直愣愣</tspan><tspan x="113" dy="23.8">地盯着烤箱，连课也听不进去了，直到老师说</tspan><tspan x="113" dy="23.8">："发蛋挞了！"我们一个接一个地接过老师递</tspan><tspan x="113" dy="23.8">来的小蛋挞，原先奶白色的湖水，现在却凝固</tspan><tspan x="113" dy="23.8">成了淡黄色的了。我像小馋猫似的伸出头轻轻</tspan><tspan x="113" dy="23.8">地舔一舔，软软的，滑滑的，甜甜的。一想到</tspan><tspan x="113" dy="23.8">这是自己制作的心里像吃了蜜一样甜，感觉这</tspan><tspan x="113" dy="23.8">个蛋挞比其它地方卖的好吃多了。</tspan></text>
<text class="p" x="132" y="4277">好了，接下来我要吃我美味甜蜜的蛋挞了！</text>
<text class="p" y="4360"><tspan x="113">今天，我们在金笔作文里尝试做蛋挞。别看蛋</tspan><tspan x="113" dy="23.8">挞吃起来一两口就解决了，但是它的制作过程</tspan><tspan x="113" dy="23.8">却非常难，我们必需先准备：牛奶、低筋粉、</tspan><tspan x="113" dy="23.8">鸡蛋、炼乳、奶油和糖粉。</tspan></text>
<text class="p" y="4513"><tspan x="113">开始做了，我们先做蛋挞浆。先打破一个鸡蛋</tspan><tspan x="113" dy="23.8">，均匀的搅拌，然后再倒300毫升的牛奶，接</tspan><tspan x="113" dy="23.8">着在倒入50毫升的炼乳，最后倒面粉和糖粉</tspan><tspan x="113" dy="23.8">。下面就是搅拌，我们一共要搅拌过滤五次，</tspan><tspan x="113" dy="23.8">才能让口感更顺滑，外表更美观。为了吃到好</tspan><tspan x="113" dy="23.8">吃的蛋挞，小朋友都拼了，搅拌到手都酸了也</tspan><tspan x="113" dy="23.8">不肯罢休。接着就是把蛋挞浆倒入蛋挞皮里，</tspan><tspan x="113" dy="23.8">一定要倒7分满，否则就会满出来。最后一步</tspan><tspan x="113" dy="23.8">是把做好的蛋挞放入烤箱里面，温度是220度</tspan><tspan x="113" dy="23.8">，时间是20-25分，我发现在烤的过程中很多</tspan><tspan x="113" dy="23.8">蛋挞都冒出白沫，有一些蛋挞已经爆掉，像一</tspan><tspan x="113" dy="23.8">个爆掉的皮球，当闻到香味时，我们发现蛋挞</tspan><tspan x="113" dy="23.8">的颜色比原来颜色深了很多。"叮"的一声响，</tspan><tspan x="113" dy="23.8">蛋挞出炉了，咬一口，真好吃。</tspan></text>
<text class="p" x="243" y="4905">做蛋挞好吃又好玩，真有趣！</text>
<text class="p" y="4990"><tspan x="89">我的姐姐是个蛋挞控，什么口味的蛋挞都喜欢</tspan><tspan x="89" dy="23.8">，我受了姐姐的影响，自然也十分喜欢吃蛋挞</tspan><tspan x="89" dy="23.8">。今天，我还跟蛋挞来了一次亲密接触呢！</tspan></text>
<text class="p" y="5119"><tspan x="89">走进教室，烤箱、盆子、工作台都一应俱全，</tspan><tspan x="89" dy="23.8">看得我们眼花缭乱，不知从何处下手。还好有</tspan><tspan x="89" dy="23.8">老师在旁边指导，我们才放下心来。</tspan></text>
<text class="p" y="5249"><tspan x="89">首先磕蛋，然后依次放入糖、牛奶、奶油，接</tspan><tspan x="89" dy="23.8">着把这些材料搅拌，融成一体，最后把融合在</tspan><tspan x="89" dy="23.8">一起的馅倒入蛋挞皮，放入烤箱。</tspan></text>
<text class="p" y="5379"><tspan x="89">最有趣的要属磕蛋了。有的人磕入的蛋黄圆圆</tspan><tspan x="89" dy="23.8">的，像一轮明月，而有的人磕入的蛋黄像一团</tspan><tspan x="89" dy="23.8">浆糊，稠稠的，完全没有形状。技术最"好"的</tspan><tspan x="89" dy="23.8">当然是毛轩皓，他把蛋黄磕在地上，而把不要</tspan><tspan x="89" dy="23.8">的蛋清磕入盆中。轮到我了，我轻轻地把鸡蛋</tspan><tspan x="89" dy="23.8">往盆上一碰，糟糕！调皮的蛋黄都流到桌上了</tspan><tspan x="89" dy="23.8">，天哪！</tspan></text>
<text class="p" y="5604"><tspan x="89">当蛋挞放入烤箱里时，我们直勾勾地盯着烤箱</tspan><tspan x="89" dy="23.8">，仿佛要把烤箱看穿，虽然只需等短短的25</tspan><tspan x="89" dy="23.8">分钟，我却觉得度秒如年。终于，"叮"的一声</tspan><tspan x="89" dy="23.8">，蛋挞烤好了！王老师把蛋挞拿出来，一股浓</tspan><tspan x="89" dy="23.8">浓的奶香钻入我的鼻子里，我偷偷地咽了口水</tspan><tspan x="89" dy="23.8">，最后再也忍不住了，以迅雷不及掩耳之势拿</tspan><tspan x="89" dy="23.8">了一个，蛋挞里面的馅像一片金光的大海，在</tspan><tspan x="89" dy="23.8">阳光下闪着亮光。我咬了一大口，嗯！滑滑的</tspan><tspan x="89" dy="23.8">、软软的，入口即化。真是人间美味。</tspan></text>
<text class="p" y="5878"><tspan x="89">蛋挞真是此"味"只应天上有，人间难得几回尝</tspan><tspan x="89" dy="23.8">啊！我为蛋挞狂！</tspan></text>
<text class="p" y="5984"><tspan x="89">终于到周末了，妈妈带我一起在家里制作蛋挞</tspan><tspan x="89" dy="23.8">，我很高兴。</tspan></text>
<text class="p" y="6091"><tspan x="89">我们从周一就开始准备做蛋挞的各种材料了，</tspan><tspan x="89" dy="23.8">烤箱、电子秤、蛋挞皮、打蛋器、淡奶油、绵</tspan><tspan x="89" dy="23.8">白糖、牛奶和鸡蛋等。首先妈妈让我拿出称，</tspan><tspan x="89" dy="23.8">把各种配料按照一定的重量称好放入一个大碗</tspan><tspan x="89" dy="23.8">里，然后拿出打蛋器开始搅拌蛋挞液。搅拌好</tspan><tspan x="89" dy="23.8">的蛋挞液黄黄的，妈妈让我把蛋挞皮拿出来，</tspan><tspan x="89" dy="23.8">把蛋挞液放进蛋挞皮里，再放入烤箱。烤了2</tspan><tspan x="89" dy="23.8">0分钟，"叮……"伴随着一阵香味，蛋挞出炉</tspan><tspan x="89" dy="23.8">了！可是有一点点糊了，妈妈说是烤的时间长</tspan><tspan x="89" dy="23.8">了一点。我忍不住尝了一口，外酥里嫩、香甜</tspan><tspan x="89" dy="23.8">可口，比买的还好吃，我一口气吃了两个！</tspan></text>
<text class="p" y="6412"><tspan x="89">第一次做蛋挞真开心，虽然有一点点糊，但是</tspan><tspan x="89" dy="23.8">我相信下次我们一定会做得更好。</tspan></text>
</g>
</g>
</svg>
